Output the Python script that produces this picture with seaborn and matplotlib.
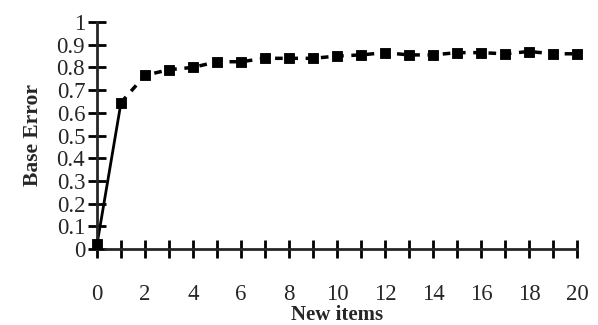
import matplotlib
matplotlib.use("Agg")
import matplotlib.pyplot as plt
import seaborn as sns
import pandas as pd

new_items = list(range(0, 21))
base_error = [0.02, 0.645, 0.765, 0.79, 0.80, 0.825, 0.825, 0.84, 0.84, 0.84, 0.85,
              0.855, 0.865, 0.855, 0.855, 0.865, 0.865, 0.86, 0.87, 0.86, 0.86]
y_ticks = [0, 0.1, 0.2, 0.3, 0.4, 0.5, 0.6, 0.7, 0.8, 0.9, 1]
y_tick_labels = ["0", "0.1", "0.2", "0.3", "0.4", "0.5", "0.6", "0.7", "0.8", "0.9", "1"]

sns.set_style("white")
plt.rcParams['font.family'] = ['Liberation Serif', 'DejaVu Serif']

df = pd.DataFrame({"New items": new_items, "Base Error": base_error})

fig = plt.figure(figsize=(5.98, 3.25), dpi=100)
ax = fig.add_axes([97/598, 76/325, 480/598, 227/325])

first = df.iloc[:2]
rest = df.iloc[1:]
sns.lineplot(data=first, x="New items", y="Base Error", ax=ax, color="black",
             lw=2, clip_on=False)
sns.lineplot(data=rest, x="New items", y="Base Error", ax=ax, color="black",
             lw=2.5, linestyle=(0, (2.2, 2.2)), clip_on=False)
sns.scatterplot(data=df, x="New items", y="Base Error", ax=ax, color="black",
                marker="s", s=60, edgecolor="black", clip_on=False, zorder=5)

ax.set_xlim(0, 20)
ax.set_ylim(0, 1)
for s in ["top", "right"]:
    ax.spines[s].set_visible(False)
ax.spines["left"].set_position(("data", 0))
ax.spines["bottom"].set_position(("data", 0))
ax.spines["left"].set_linewidth(2)
ax.spines["bottom"].set_linewidth(2)
ax.spines["bottom"].set_bounds(0.35, 20)

ax.set_yticks(y_ticks)
ax.set_yticklabels(y_tick_labels)
ax.set_xticks(new_items)
ax.set_xticklabels([str(v) if v % 2 == 0 else "" for v in new_items])
ax.tick_params(axis="both", direction="inout", length=13, width=2, color="black",
               labelsize=16.5, bottom=True, left=True)
ax.tick_params(axis="x", pad=19)
ax.tick_params(axis="y", pad=2)

ax.set_xlabel("New items", fontsize=15, fontweight="bold", labelpad=0)
ax.set_ylabel("Base Error", fontsize=15.5, fontweight="bold", labelpad=10)

fig.savefig("out.png", dpi=100)
